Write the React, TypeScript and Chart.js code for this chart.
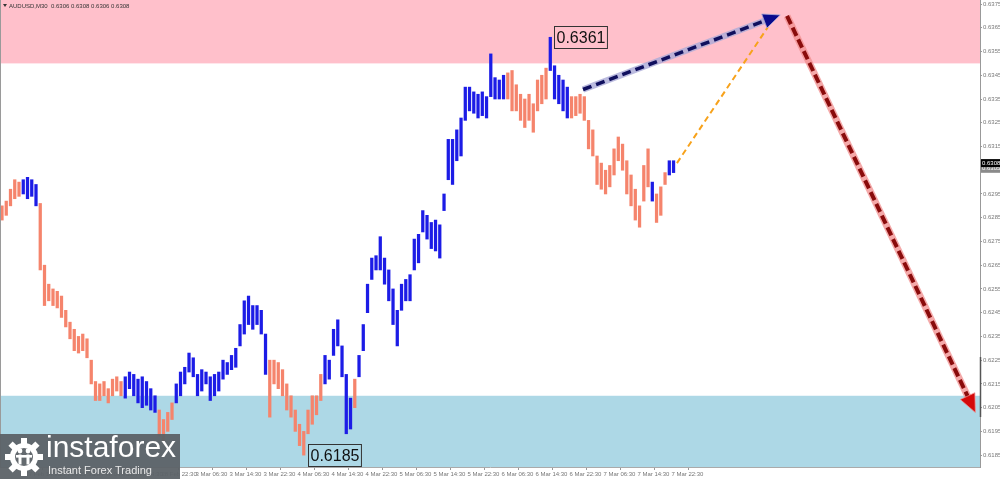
import React, { useEffect, useRef } from "react";
import { Chart, registerables } from "chart.js";

Chart.register(...registerables);

const symbolTitle = "AUDUSD,M30  0.6306 0.6308 0.6306 0.6308";

const barHighs = [
  0.6290, 0.6292, 0.6297, 0.6301, 0.6300, 0.6301, 0.6302, 0.6301, 0.6299, 0.6291,
  0.6265, 0.6257, 0.6255, 0.6254, 0.6252, 0.6246, 0.6241, 0.6238, 0.6235, 0.6236,
  0.6234, 0.6225, 0.6216, 0.6215, 0.6216, 0.6213, 0.6217, 0.6218, 0.6216, 0.6218,
  0.6220, 0.6219, 0.6217, 0.6218, 0.6216, 0.6213, 0.6210, 0.6204, 0.6200, 0.6203,
  0.6207, 0.6215, 0.6220, 0.6222, 0.6228, 0.6226, 0.6219, 0.6221, 0.6220, 0.6218,
  0.6219, 0.6220, 0.6225, 0.6224, 0.6227, 0.6230, 0.6240, 0.6250, 0.6252, 0.6248,
  0.6248, 0.6246, 0.6236, 0.6225, 0.6225, 0.6224, 0.6221, 0.6215, 0.6210, 0.6204,
  0.6198, 0.6195, 0.6204, 0.6210, 0.6210, 0.6219, 0.6227, 0.6225, 0.6238, 0.6242,
  0.6231, 0.6219, 0.6209, 0.6217, 0.6227, 0.6240, 0.6257, 0.6268, 0.6269, 0.6277,
  0.6268, 0.6263, 0.6255, 0.6246, 0.6257, 0.6259, 0.6261, 0.6276, 0.6278, 0.6288,
  0.6286, 0.6283, 0.6284, 0.6282, 0.6295, 0.6318, 0.6318, 0.6322, 0.6327, 0.6340,
  0.6340, 0.6338, 0.6337, 0.6338, 0.6336, 0.6354, 0.6344, 0.6343, 0.6345, 0.6346,
  0.6347, 0.6341, 0.6337, 0.6335, 0.6337, 0.6333, 0.6343, 0.6345, 0.6348, 0.6361,
  0.6349, 0.6345, 0.6343, 0.6340, 0.6336, 0.6336, 0.6337, 0.6336, 0.6326, 0.6322,
  0.6311, 0.6308, 0.6305, 0.6307, 0.6314, 0.6319, 0.6316, 0.6309, 0.6303, 0.6297,
  0.6290, 0.6307, 0.6314, 0.6300, 0.6295, 0.6298, 0.6304, 0.6309, 0.6309,
];

const barLows = [
  0.6284, 0.6286, 0.6290, 0.6293, 0.6294, 0.6295, 0.6293, 0.6294, 0.6290, 0.6263,
  0.6248, 0.6250, 0.6248, 0.6247, 0.6243, 0.6239, 0.6234, 0.6229, 0.6228, 0.6229,
  0.6226, 0.6215, 0.6208, 0.6208, 0.6210, 0.6207, 0.6210, 0.6212, 0.6210, 0.6209,
  0.6213, 0.6210, 0.6207, 0.6205, 0.6206, 0.6204, 0.6203, 0.6193, 0.6191, 0.6195,
  0.6200, 0.6207, 0.6210, 0.6215, 0.6220, 0.6218, 0.6210, 0.6212, 0.6215, 0.6208,
  0.6210, 0.6212, 0.6217, 0.6219, 0.6221, 0.6222, 0.6231, 0.6236, 0.6240, 0.6238,
  0.6240, 0.6236, 0.6219, 0.6201, 0.6215, 0.6213, 0.6210, 0.6204, 0.6201, 0.6195,
  0.6189, 0.6185, 0.6194, 0.6198, 0.6202, 0.6208, 0.6215, 0.6217, 0.6227, 0.6231,
  0.6218, 0.6194, 0.6196, 0.6205, 0.6218, 0.6229, 0.6245, 0.6259, 0.6263, 0.6263,
  0.6257, 0.6250, 0.6240, 0.6231, 0.6246, 0.6250, 0.6250, 0.6263, 0.6266, 0.6279,
  0.6276, 0.6272, 0.6271, 0.6268, 0.6288, 0.6301, 0.6299, 0.6309, 0.6311, 0.6326,
  0.6330, 0.6329, 0.6327, 0.6328, 0.6327, 0.6336, 0.6335, 0.6335, 0.6335, 0.6335,
  0.6330, 0.6330, 0.6326, 0.6323, 0.6326, 0.6321, 0.6330, 0.6333, 0.6335, 0.6347,
  0.6335, 0.6333, 0.6330, 0.6327, 0.6327, 0.6328, 0.6329, 0.6326, 0.6314, 0.6311,
  0.6299, 0.6297, 0.6295, 0.6298, 0.6303, 0.6309, 0.6305, 0.6295, 0.6290, 0.6284,
  0.6281, 0.6292, 0.6298, 0.6292, 0.6283, 0.6286, 0.6299, 0.6303, 0.6304,
];

// wave segments (start index of each wave), alternating down / up
const waveStarts = [0, 5, 9, 29, 37, 41, 63, 76, 83, 84, 119, 129, 134, 153, 154, 157];
const waveIsUp = [false, true, false, true, false, true, false, true, false, true, false, true, false, true, false, true];

const timeLabels = [
  "27 Feb 14:30", "27 Feb 22:30", "28 Feb 06:30", "28 Feb 14:30", "28 Feb 22:30",
  "3 Mar 06:30", "3 Mar 14:30", "3 Mar 22:30", "4 Mar 06:30", "4 Mar 14:30",
  "4 Mar 22:30", "5 Mar 06:30", "5 Mar 14:30", "5 Mar 22:30", "6 Mar 06:30",
  "6 Mar 14:30", "6 Mar 22:30", "7 Mar 06:30", "7 Mar 14:30", "7 Mar 22:30",
];
const timeLabelPos = [
  5.5, 13.5, 21.5, 29.5, 37.5, 45.5, 53.5, 61.5, 69.5, 77.5,
  85.5, 93.5, 101.5, 109.5, 117.5, 125.5, 133.5, 141.5, 149.5, 157.5,
];

const priceTicks = [
  0.6185, 0.6195, 0.6205, 0.6215, 0.6225, 0.6235, 0.6245, 0.6255, 0.6265, 0.6275,
  0.6285, 0.6295, 0.6305, 0.6315, 0.6325, 0.6335, 0.6345, 0.6355, 0.6365, 0.6375,
];

const resistanceZone = [0.635, 0.64];
const supportZone = [0.615, 0.621];

const forecastUp = [[136.7, 0.6339], [183.1, 0.63704]];
const forecastAlt = [[158.8, 0.6308], [180.2, 0.63653]];
const forecastDown = [[184.7, 0.637], [229.0, 0.6203]];

const extremeIdx = [129, 71];
const extremePrice = [0.6361, 0.6185];
const extremeText = ["0.6361", "0.6185"];

const lastPrice = 0.6308;
const lastText = "0.6308";
const secondPrice = 0.63056;
const secondText = "0.6305";

const X_MIN = -0.47;
const X_MAX = 230.1;
const Y_MIN = 0.618;
const Y_MAX = 0.63767;

const SALMON = "#f5846c";
const BLUE = "#1c1ce6";

function barColor(i: number): string {
  let k = 0;
  for (let j = 0; j < waveStarts.length; j++) if (i >= waveStarts[j]) k = j;
  return waveIsUp[k] ? BLUE : SALMON;
}

function drawArrow(
  ctx: CanvasRenderingContext2D,
  x1: number, y1: number, x2: number, y2: number,
  o: { color: string; halo?: string; width: number; dash: number[]; headLen: number; headW: number; headColor?: string }
) {
  const ang = Math.atan2(y2 - y1, x2 - x1);
  const c = Math.cos(ang), s = Math.sin(ang);
  const ex = o.headLen ? x2 - c * o.headLen * 0.85 : x2;
  const ey = o.headLen ? y2 - s * o.headLen * 0.85 : y2;
  ctx.save();
  ctx.lineCap = "butt";
  if (o.halo) {
    ctx.strokeStyle = o.halo;
    ctx.lineWidth = o.width + 3;
    ctx.setLineDash([]);
    ctx.beginPath();
    ctx.moveTo(x1, y1);
    ctx.lineTo(ex, ey);
    ctx.stroke();
  }
  ctx.strokeStyle = o.color;
  ctx.lineWidth = o.width;
  ctx.setLineDash(o.dash);
  ctx.beginPath();
  ctx.moveTo(x1, y1);
  ctx.lineTo(ex, ey);
  ctx.stroke();
  if (o.headLen) {
    ctx.setLineDash([]);
    const bx = x2 - c * o.headLen, by = y2 - s * o.headLen;
    ctx.beginPath();
    ctx.moveTo(x2, y2);
    ctx.lineTo(bx - s * o.headW, by + c * o.headW);
    ctx.lineTo(bx + s * o.headW, by - c * o.headW);
    ctx.closePath();
    ctx.fillStyle = o.headColor || o.color;
    ctx.fill();
    if (o.halo) {
      ctx.strokeStyle = o.halo;
      ctx.lineWidth = 1;
      ctx.stroke();
    }
  }
  ctx.restore();
}

const overlayPlugin = {
  id: "waveOverlay",
  beforeDatasetsDraw(chart: any) {
    const { ctx, chartArea: a, scales } = chart;
    const y = scales.y;
    ctx.save();
    ctx.beginPath();
    ctx.rect(a.left, a.top, a.right - a.left, a.bottom - a.top);
    ctx.clip();
    const zone = (z: number[], col: string) => {
      const t = y.getPixelForValue(z[1]);
      const b = y.getPixelForValue(z[0]);
      ctx.fillStyle = col;
      ctx.fillRect(a.left, t, a.right - a.left, b - t);
    };
    zone(resistanceZone, "#ffc0cb");
    zone(supportZone, "#add8e6");
    ctx.restore();
  },
  afterDatasetsDraw(chart: any) {
    const { ctx, scales } = chart;
    const x = scales.x, y = scales.y;
    const P = (p: number[]) => [x.getPixelForValue(p[0]), y.getPixelForValue(p[1])];
    let a = P(forecastAlt[0]), b = P(forecastAlt[1]);
    drawArrow(ctx, a[0], a[1], b[0], b[1], { color: "#f7a21b", width: 2, dash: [6, 4], headLen: 0, headW: 0 });
    a = P(forecastUp[0]); b = P(forecastUp[1]);
    drawArrow(ctx, a[0], a[1], b[0], b[1], {
      color: "#10105e", halo: "rgba(170,170,215,0.8)", width: 3.5, dash: [9, 5], headLen: 17, headW: 7.5, headColor: "#0a0a8c",
    });
    a = P(forecastDown[0]); b = P(forecastDown[1]);
    drawArrow(ctx, a[0], a[1], b[0], b[1], {
      color: "#8a0c0c", halo: "rgba(240,140,140,0.75)", width: 4, dash: [9, 4], headLen: 18, headW: 8, headColor: "#d40a0a",
    });
    ctx.save();
    ctx.font = "16px 'Liberation Sans', Arial, sans-serif";
    ctx.textBaseline = "middle";
    for (let i = 0; i < extremeIdx.length; i++) {
      const px = x.getPixelForValue(extremeIdx[i]);
      const py = y.getPixelForValue(extremePrice[i]);
      const w = ctx.measureText(extremeText[i]).width;
      const bx = Math.round(px + 4) + 0.5;
      const by = Math.round(py - 11) + 0.5;
      ctx.strokeStyle = "#333";
      ctx.lineWidth = 1;
      ctx.strokeRect(bx, by, w + 4, 22);
      ctx.fillStyle = "#111";
      ctx.fillText(extremeText[i], bx + 2, py + 1);
    }
    ctx.restore();
  },
  afterDraw(chart: any) {
    const { ctx, chartArea: a, scales } = chart;
    const y = scales.y;
    ctx.save();
    ctx.strokeStyle = "#9a9a9a";
    ctx.lineWidth = 1;
    ctx.beginPath();
    ctx.moveTo(0.5, 0);
    ctx.lineTo(0.5, a.bottom);
    ctx.stroke();
    ctx.fillStyle = "#333";
    ctx.beginPath();
    ctx.moveTo(3, 4);
    ctx.lineTo(7, 4);
    ctx.lineTo(5, 7);
    ctx.closePath();
    ctx.fill();
    ctx.font = "6px 'Liberation Sans', Arial, sans-serif";
    ctx.textBaseline = "middle";
    ctx.fillText(symbolTitle, 9, 6);
    ctx.strokeStyle = "#555";
    ctx.lineWidth = 1.5;
    ctx.beginPath();
    ctx.moveTo(a.right + 0.5, 357);
    ctx.lineTo(a.right + 0.5, 417);
    ctx.stroke();
    const box = (p: number, t: string, bg: string) => {
      const py = y.getPixelForValue(p);
      ctx.fillStyle = bg;
      ctx.fillRect(a.right + 1, py - 4, 19, 8);
      ctx.fillStyle = "#fff";
      ctx.font = "6px 'Liberation Sans', Arial, sans-serif";
      ctx.textBaseline = "middle";
      ctx.fillText(t, a.right + 2, py);
    };
    box(secondPrice, secondText, "#8a8a8a");
    box(lastPrice, lastText, "#000");
    ctx.restore();
  },
};

function Gear() {
  const teeth = [];
  for (let i = 0; i < 8; i++) {
    teeth.push(
      <rect key={i} x={17} y={1} width={6} height={8} fill="#fff" transform={`rotate(${i * 45} 20 20)`} />
    );
  }
  return (
    <svg width={40} height={40} viewBox="0 0 40 40">
      {teeth}
      <circle cx={20} cy={20} r={14} fill="#fff" />
      <circle cx={20} cy={20} r={9} fill="#646a6f" />
      <circle cx={16} cy={14} r={2.4} fill="#fff" />
      <circle cx={24} cy={14} r={2.4} fill="#fff" />
      <rect x={14.5} y={17.5} width={3} height={10} fill="#fff" />
      <rect x={22.5} y={17.5} width={3} height={10} fill="#fff" />
      <rect x={12} y={18} width={16} height={2.6} fill="#fff" />
    </svg>
  );
}

export default function App() {
  const ref = useRef<HTMLCanvasElement>(null);
  useEffect(() => {
    document.body.style.margin = "0";
    const data = barHighs.map((h, i) => ({ x: i, y: [barLows[i], h] }));
    const colors = barHighs.map((_, i) => barColor(i));
    const chart = new Chart(ref.current as HTMLCanvasElement, {
      type: "bar",
      data: {
        datasets: [
          {
            data: data as any,
            backgroundColor: colors,
            borderWidth: 0,
            barThickness: 2.6,
          },
        ],
      },
      options: {
        animation: false,
        responsive: false,
        events: [],
        layout: { padding: 0 },
        plugins: { legend: { display: false }, tooltip: { enabled: false } },
        scales: {
          x: {
            type: "linear",
            min: X_MIN,
            max: X_MAX,
            offset: false,
            afterBuildTicks: (s: any) => {
              s.ticks = timeLabelPos.map((v) => ({ value: v }));
            },
            afterFit: (s: any) => {
              s.height = 12;
              s.paddingLeft = 0;
              s.paddingRight = 0;
            },
            grid: { display: true, drawOnChartArea: false, drawTicks: true, tickLength: 3, color: "#999" },
            border: { display: true, color: "#aaa" },
            ticks: {
              autoSkip: false,
              maxRotation: 0,
              align: "start",
              padding: 1,
              color: "#777",
              font: { size: 6, family: "'Liberation Sans', Arial, sans-serif" },
              callback: (v: any) => {
                const k = timeLabelPos.indexOf(Number(v));
                return k >= 0 ? timeLabels[k] : "";
              },
            },
          },
          y: {
            type: "linear",
            position: "right",
            min: Y_MIN,
            max: Y_MAX,
            afterBuildTicks: (s: any) => {
              s.ticks = priceTicks.map((v) => ({ value: v }));
            },
            afterFit: (s: any) => {
              s.width = 20;
              s.paddingTop = 0;
              s.paddingBottom = 0;
            },
            grid: { display: true, drawOnChartArea: false, drawTicks: true, tickLength: 2, color: "#999" },
            border: { display: true, color: "#999" },
            ticks: {
              padding: 1,
              color: "#777",
              font: { size: 6, family: "'Liberation Sans', Arial, sans-serif" },
              callback: (v: any) => Number(v).toFixed(4),
            },
          },
        },
      },
      plugins: [overlayPlugin],
    });
    return () => chart.destroy();
  }, []);

  return (
    <div style={{ position: "relative", width: 1000, height: 479, background: "#fff", overflow: "hidden" }}>
      <canvas ref={ref} width={1000} height={479} style={{ display: "block", width: 1000, height: 479 }} />
      <div
        style={{
          position: "absolute",
          left: 0,
          top: 434,
          width: 180,
          height: 45,
          background: "rgba(92,98,103,0.95)",
          fontFamily: "'Liberation Sans', Arial, sans-serif",
          color: "#fff",
        }}
      >
        <div style={{ position: "absolute", left: 4, top: 3 }}>
          <Gear />
        </div>
        <div style={{ position: "absolute", left: 46, top: -3, fontSize: 30, lineHeight: "32px", whiteSpace: "nowrap" }}>
          instaforex
        </div>
        <div style={{ position: "absolute", left: 48, top: 30, fontSize: 11, lineHeight: "13px", color: "#e8e8e8", whiteSpace: "nowrap" }}>
          Instant Forex Trading
        </div>
      </div>
    </div>
  );
}
